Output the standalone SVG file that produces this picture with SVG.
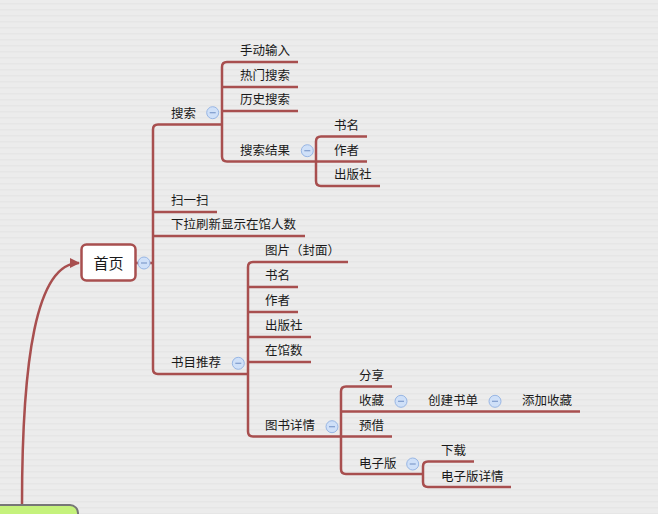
<svg xmlns="http://www.w3.org/2000/svg" width="658" height="514" viewBox="0 0 658 514">
<style>
.c{fill:none;stroke:#a84f4f;stroke-width:2.5;stroke-linecap:butt;stroke-linejoin:round}
.t{font-family:"Noto Sans CJK SC","Noto Sans",sans-serif;font-size:12.5px;fill:#1a1a1a}
.h{font-family:"Noto Sans CJK SC","Noto Sans",sans-serif;font-size:15px;fill:#1a1a1a}
.m circle{fill:#cfe0f8;stroke:#98b6e4;stroke-width:1}
.m line{stroke:#7f9ccc;stroke-width:1.2}
</style>
<defs>
<pattern id="bg" width="8" height="6" patternUnits="userSpaceOnUse">
<rect width="8" height="6" fill="#ececec"/>
<rect y="3" width="8" height="1.5" fill="#e6e6e6"/>
</pattern>
<marker id="ar" viewBox="0 0 10 10" refX="9" refY="5" markerWidth="4" markerHeight="4" orient="auto" markerUnits="strokeWidth">
<path d="M0,0 L10,5 L0,10 z" fill="#a84f4f"/>
</marker>
<g id="minus" class="m"><circle r="6"/><line x1="-3" y1="0" x2="3" y2="0"/></g>
</defs>
<rect width="658" height="514" fill="url(#bg)"/>

<g id="connectors">
<path class="c" d="M22,505 C22,360 36,263 79,263" marker-end="url(#ar)"/>
<path class="c" d="M136,263 H153"/>
<path class="c" d="M222,124.5 H158 Q153,124.5 153,129.5 V369 Q153,374 158,374 H248"/>
<path class="c" d="M153,212 H217"/>
<path class="c" d="M153,236 H305"/>
<path class="c" d="M298,62 H227 Q222,62 222,67 V156.5 Q222,161.5 227,161.5 H367"/>
<path class="c" d="M222,87 H298"/>
<path class="c" d="M222,111 H298"/>
<path class="c" d="M367,136.5 H321 Q316,136.5 316,141.5 V181 Q316,186 321,186 H380"/>
<path class="c" d="M348,262 H253 Q248,262 248,267 V431.5 Q248,436.5 253,436.5 H392"/>
<path class="c" d="M248,287 H298"/>
<path class="c" d="M248,312 H298"/>
<path class="c" d="M248,337 H311"/>
<path class="c" d="M248,362 H311"/>
<path class="c" d="M392,386.5 H346 Q341,386.5 341,391.5 V469 Q341,474 346,474 H423"/>
<path class="c" d="M341,411.5 H580"/>
<path class="c" d="M474,461.5 H428 Q423,461.5 423,466.5 V482 Q423,487 428,487 H511"/>
</g>

<g id="start"><rect x="-12" y="505" width="90" height="30" rx="8" fill="#c5f27c" stroke="#777" stroke-width="2"/></g>

<g id="home"><rect x="81.5" y="244.5" width="54" height="36" rx="5" fill="#fff" stroke="#a84f4f" stroke-width="2.5"/><text class="h" x="108.5" y="268.5" text-anchor="middle">首页</text></g>
<use href="#minus" x="144" y="263"/>

<g id="search"><text class="t" x="171" y="117.5">搜索</text><use href="#minus" x="212.7" y="112.7"/></g>
<g id="n-manual"><text class="t" x="240" y="55">手动输入</text></g>
<g id="n-hot"><text class="t" x="240" y="80">热门搜索</text></g>
<g id="n-history"><text class="t" x="240" y="104">历史搜索</text></g>
<g id="n-result"><text class="t" x="240" y="154.5">搜索结果</text><use href="#minus" x="307.3" y="150.7"/></g>
<g id="n-r-title"><text class="t" x="334" y="129.5">书名</text></g>
<g id="n-r-author"><text class="t" x="334" y="154.5">作者</text></g>
<g id="n-r-pub"><text class="t" x="334" y="179">出版社</text></g>
<g id="scan"><text class="t" x="171" y="205">扫一扫</text></g>
<g id="pull"><text class="t" x="171" y="229">下拉刷新显示在馆人数</text></g>
<g id="recommend"><text class="t" x="171" y="367">书目推荐</text><use href="#minus" x="238.3" y="363.3"/></g>
<g id="n-cover"><text class="t" x="265" y="255">图片（封面）</text></g>
<g id="n-title"><text class="t" x="265" y="280">书名</text></g>
<g id="n-author"><text class="t" x="265" y="305">作者</text></g>
<g id="n-pub"><text class="t" x="265" y="330">出版社</text></g>
<g id="n-count"><text class="t" x="265" y="355">在馆数</text></g>
<g id="n-detail"><text class="t" x="265" y="430">图书详情</text><use href="#minus" x="332" y="426.7"/></g>
<g id="n-share"><text class="t" x="359" y="380">分享</text></g>
<g id="n-fav"><text class="t" x="359" y="405">收藏</text><use href="#minus" x="401" y="401.3"/></g>
<g id="n-create"><text class="t" x="428" y="405">创建书单</text><use href="#minus" x="495" y="401.3"/></g>
<g id="n-add"><text class="t" x="522" y="405">添加收藏</text></g>
<g id="n-borrow"><text class="t" x="359" y="430">预借</text></g>
<g id="n-ebook"><text class="t" x="359" y="467.5">电子版</text><use href="#minus" x="412.7" y="464"/></g>
<g id="n-download"><text class="t" x="441" y="455">下载</text></g>
<g id="n-edetail"><text class="t" x="441" y="480.5">电子版详情</text></g>
</svg>
